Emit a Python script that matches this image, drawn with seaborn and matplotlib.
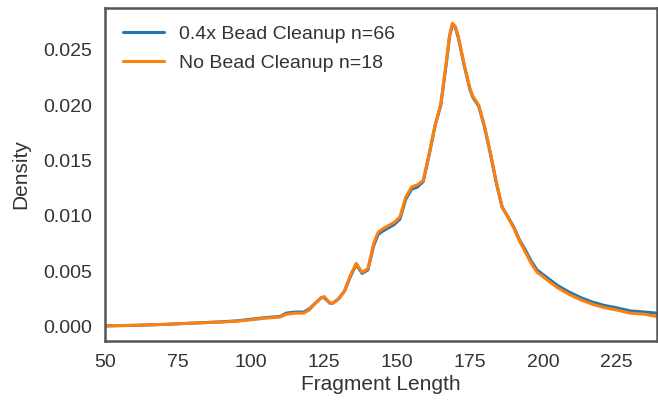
import numpy as np
import pandas as pd
import seaborn as sns
import matplotlib
matplotlib.use("Agg")
import matplotlib.pyplot as plt

# Fragment length positions (bp)
frag_len = [50, 60, 70, 80, 90, 95, 100, 105, 110, 112, 115, 118, 120, 122, 124, 125,
            127, 128, 130, 132, 134, 136, 138, 140, 142, 143.5, 145, 147, 149, 151,
            153, 155, 157, 159, 161, 163, 165, 167, 168, 169, 170, 171, 173, 175, 176,
            178, 180, 182, 184, 186, 188, 190, 192, 194, 196, 198, 200, 202, 205, 209,
            213, 217, 221, 225, 230, 235, 239]

# Density, 0.4x Bead Cleanup (n=66)
dens_bead = [0.00005, 0.0001, 0.00018, 0.0003, 0.00042, 0.0005, 0.00065, 0.0008, 0.0009,
             0.0012, 0.0013, 0.0013, 0.0016, 0.0021, 0.0026, 0.0026, 0.0021, 0.0021,
             0.0025, 0.0032, 0.0045, 0.0056, 0.0048, 0.0051, 0.0073, 0.0083, 0.0086,
             0.0089, 0.0092, 0.0097, 0.0115, 0.0124, 0.0126, 0.0131, 0.0155, 0.0181,
             0.0200, 0.0240, 0.0262, 0.0273, 0.0270, 0.0261, 0.0236, 0.0214, 0.0207,
             0.0199, 0.0180, 0.0156, 0.0130, 0.0108, 0.0099, 0.0090, 0.0078, 0.0069,
             0.0059, 0.0051, 0.0047, 0.0043, 0.0037, 0.0031, 0.0026, 0.0022, 0.0019,
             0.0017, 0.0014, 0.0013, 0.0012]

# Density, No Bead Cleanup (n=18)
dens_nobead = [0.00005, 0.0001, 0.00018, 0.0003, 0.0004, 0.00048, 0.0006, 0.00075, 0.00085,
               0.0011, 0.0012, 0.0012, 0.0015, 0.0021, 0.0026, 0.0027, 0.0021, 0.0021,
               0.0025, 0.0032, 0.0046, 0.0057, 0.0049, 0.0052, 0.0075, 0.0085, 0.0088,
               0.0091, 0.0094, 0.0099, 0.0117, 0.0126, 0.0128, 0.0132, 0.0156, 0.0181,
               0.0201, 0.0241, 0.0263, 0.0274, 0.0271, 0.0262, 0.0237, 0.0215, 0.0208,
               0.0200, 0.0181, 0.0157, 0.0131, 0.0108, 0.0099, 0.0089, 0.0077, 0.0067,
               0.0057, 0.0049, 0.0045, 0.0041, 0.0035, 0.0029, 0.0024, 0.0020, 0.0017,
               0.0015, 0.0012, 0.0011, 0.0009]

labels = ["0.4x Bead Cleanup n=66", "No Bead Cleanup n=18"]

df = pd.concat([
    pd.DataFrame({"Fragment Length": frag_len, "Density": dens_bead, "group": labels[0]}),
    pd.DataFrame({"Fragment Length": frag_len, "Density": dens_nobead, "group": labels[1]}),
])

sns.set_style("white")
plt.rcParams["font.family"] = ["Liberation Sans", "DejaVu Sans"]

fig = plt.figure(figsize=(6.58, 4.05), dpi=100)
ax = fig.add_axes([0.16, 0.158, 0.838, 0.822])

sns.lineplot(data=df, x="Fragment Length", y="Density", hue="group",
             palette=["#1f77b4", "#ff7f0e"], linewidth=2.2, ax=ax)

ax.set_xlim(50, 239)
ax.set_xticks([50, 75, 100, 125, 150, 175, 200, 225])
ax.set_yticks([0.0, 0.005, 0.010, 0.015, 0.020, 0.025])
ax.set_yticklabels(["0.000", "0.005", "0.010", "0.015", "0.020", "0.025"])
ax.tick_params(labelsize=14, colors="#333333", pad=6)
ax.set_xlabel("Fragment Length", fontsize=15, color="#333333", labelpad=3)
ax.set_ylabel("Density", fontsize=15, color="#333333", labelpad=9)
for s in ax.spines.values():
    s.set_color("#555555")
    s.set_linewidth(1.8)

leg = ax.legend(loc="upper left", frameon=False, fontsize=14, handlelength=2.1,
                handletextpad=0.8, labelspacing=0.55, borderaxespad=0.5)
leg.set_title(None)
for t in leg.get_texts():
    t.set_color("#333333")

fig.savefig("out.png", dpi=100)
